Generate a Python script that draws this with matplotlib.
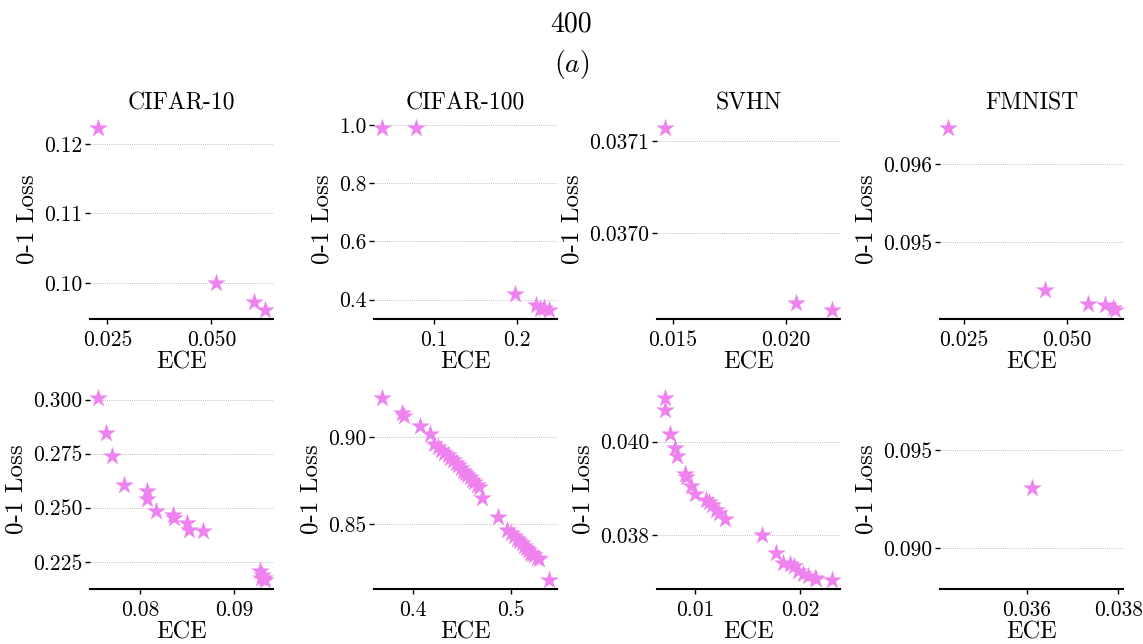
import matplotlib
matplotlib.use("Agg")
import matplotlib.pyplot as plt

plt.rcParams["font.family"] = "serif"
plt.rcParams["font.serif"] = ["cmr10"]
plt.rcParams["mathtext.fontset"] = "cm"
plt.rcParams["axes.formatter.use_mathtext"] = True

titles = ["CIFAR-10", "CIFAR-100", "SVHN", "FMNIST"]

# top row
c10_top_ece = [0.0228, 0.0512, 0.0603, 0.0628]
c10_top_loss = [0.1223, 0.1000, 0.0972, 0.0961]
c100_top_ece = [0.0378, 0.0784, 0.198, 0.223, 0.228, 0.232, 0.238]
c100_top_loss = [0.989, 0.989, 0.420, 0.381, 0.368, 0.373, 0.365]
svhn_top_ece = [0.01467, 0.02043, 0.02202]
svhn_top_loss = [0.037114, 0.036924, 0.036917]
fm_top_ece = [0.0213, 0.0448, 0.0552, 0.0594, 0.0612, 0.0616]
fm_top_loss = [0.09647, 0.09438, 0.09420, 0.09418, 0.09415, 0.09412]

# bottom row
c10_bot_ece = [0.07552, 0.07637, 0.07701, 0.07829, 0.08075, 0.08075, 0.08163,
               0.08342, 0.0836, 0.08491, 0.08512, 0.08669, 0.0927, 0.09295,
               0.09313, 0.0928, 0.0932]
c10_bot_loss = [0.3007, 0.2847, 0.2738, 0.2607, 0.2578, 0.2540, 0.2486,
                0.2468, 0.2453, 0.2430, 0.2395, 0.2392, 0.2207, 0.2189,
                0.2177, 0.2174, 0.2166]
c100_bot_ece = [0.3691, 0.3893, 0.391, 0.4072, 0.4175, 0.4212, 0.426, 0.429,
                0.432, 0.436, 0.438, 0.441, 0.444, 0.446, 0.449, 0.451, 0.453,
                0.455, 0.458, 0.460, 0.462, 0.465, 0.467, 0.4701, 0.4872,
                0.4959, 0.500, 0.503, 0.506, 0.508, 0.511, 0.513, 0.515,
                0.517, 0.519, 0.521, 0.523, 0.526, 0.528, 0.5381]
c100_bot_loss = [0.9227, 0.9139, 0.9122, 0.9063, 0.9017, 0.8960, 0.8945,
                 0.8930, 0.8912, 0.8898, 0.8880, 0.8868, 0.8850, 0.8838,
                 0.8822, 0.8808, 0.8795, 0.8782, 0.8770, 0.8755, 0.8742,
                 0.8725, 0.8712, 0.8649, 0.8538, 0.8467, 0.8450, 0.8432,
                 0.8415, 0.8400, 0.8388, 0.8372, 0.8360, 0.8348, 0.8335,
                 0.8328, 0.8318, 0.8305, 0.8296, 0.8177]
svhn_bot_ece = [0.0072, 0.0072, 0.00768, 0.00816, 0.00831, 0.00902, 0.00917,
                0.00965, 0.01006, 0.01102, 0.01134, 0.01165, 0.01197, 0.01229,
                0.01284, 0.01633, 0.01771, 0.01834, 0.01898, 0.01936, 0.01978,
                0.02025, 0.02073, 0.02137, 0.02153, 0.02296]
svhn_bot_loss = [0.04093, 0.04068, 0.04016, 0.03987, 0.03970, 0.03931,
                 0.03924, 0.03905, 0.03888, 0.03875, 0.03872, 0.03865,
                 0.03854, 0.03847, 0.03835, 0.03800, 0.03763, 0.03742,
                 0.03738, 0.03735, 0.03724, 0.03717, 0.03714, 0.03710,
                 0.03707, 0.03705]
fm_bot_ece = [0.03611]
fm_bot_loss = [0.09305]

xs = [c10_top_ece, c100_top_ece, svhn_top_ece, fm_top_ece,
      c10_bot_ece, c100_bot_ece, svhn_bot_ece, fm_bot_ece]
ys = [c10_top_loss, c100_top_loss, svhn_top_loss, fm_top_loss,
      c10_bot_loss, c100_bot_loss, svhn_bot_loss, fm_bot_loss]

x_ticks = [[0.025, 0.050], [0.1, 0.2], [0.015, 0.020], [0.025, 0.050],
           [0.08, 0.09], [0.4, 0.5], [0.01, 0.02], [0.036, 0.038]]
x_fmt = ["%.3f", "%.1f", "%.3f", "%.3f", "%.2f", "%.1f", "%.2f", "%.3f"]
y_ticks = [[0.10, 0.11, 0.12], [0.4, 0.6, 0.8, 1.0], [0.0370, 0.0371], [0.095, 0.096],
           [0.225, 0.250, 0.275, 0.300], [0.85, 0.90], [0.038, 0.040], [0.090, 0.095]]
y_fmt = ["%.2f", "%.1f", "%.4f", "%.3f", "%.3f", "%.2f", "%.3f", "%.3f"]

fig = plt.figure(figsize=(11.43, 6.44), dpi=100)
lefts = [0.0787, 0.3272, 0.5748, 0.8224]
bottoms = [0.5047, 0.0854]

for i in range(8):
    r, c = divmod(i, 4)
    ax = fig.add_axes([lefts[c], bottoms[r], 0.160, 0.3106])
    ax.scatter(xs[i], ys[i], marker="*", s=200, color="violet", zorder=3,
               linewidths=0)
    ax.set_xticks(x_ticks[i], labels=[x_fmt[i] % v for v in x_ticks[i]])
    ax.set_yticks(y_ticks[i], labels=[y_fmt[i] % v for v in y_ticks[i]])
    if i == 7:
        ax.set_xlim(0.0341, 0.0381)
        ax.set_ylim(0.0879, 0.0981)
    ax.grid(axis="y", linestyle=(0, (1, 1.5)), color="#aaaaaa", linewidth=0.6)
    for s in ["top", "right", "left"]:
        ax.spines[s].set_visible(False)
    ax.spines["bottom"].set_linewidth(1.5)
    ax.tick_params(labelsize=15.5, length=3.5, width=1)
    ax.tick_params(axis="x", pad=5)
    ax.tick_params(axis="y", pad=2)
    ax.set_xlabel("ECE", fontsize=17.5, labelpad=0.5)
    ax.set_ylabel("0-1 Loss", fontsize=18, labelpad=4)
    if r == 0:
        ax.set_title(titles[c], fontsize=17, pad=7)

fig.suptitle("400\n$(a)$", fontsize=20, y=0.982, linespacing=1.4)
fig.savefig("out.png", dpi=100)
